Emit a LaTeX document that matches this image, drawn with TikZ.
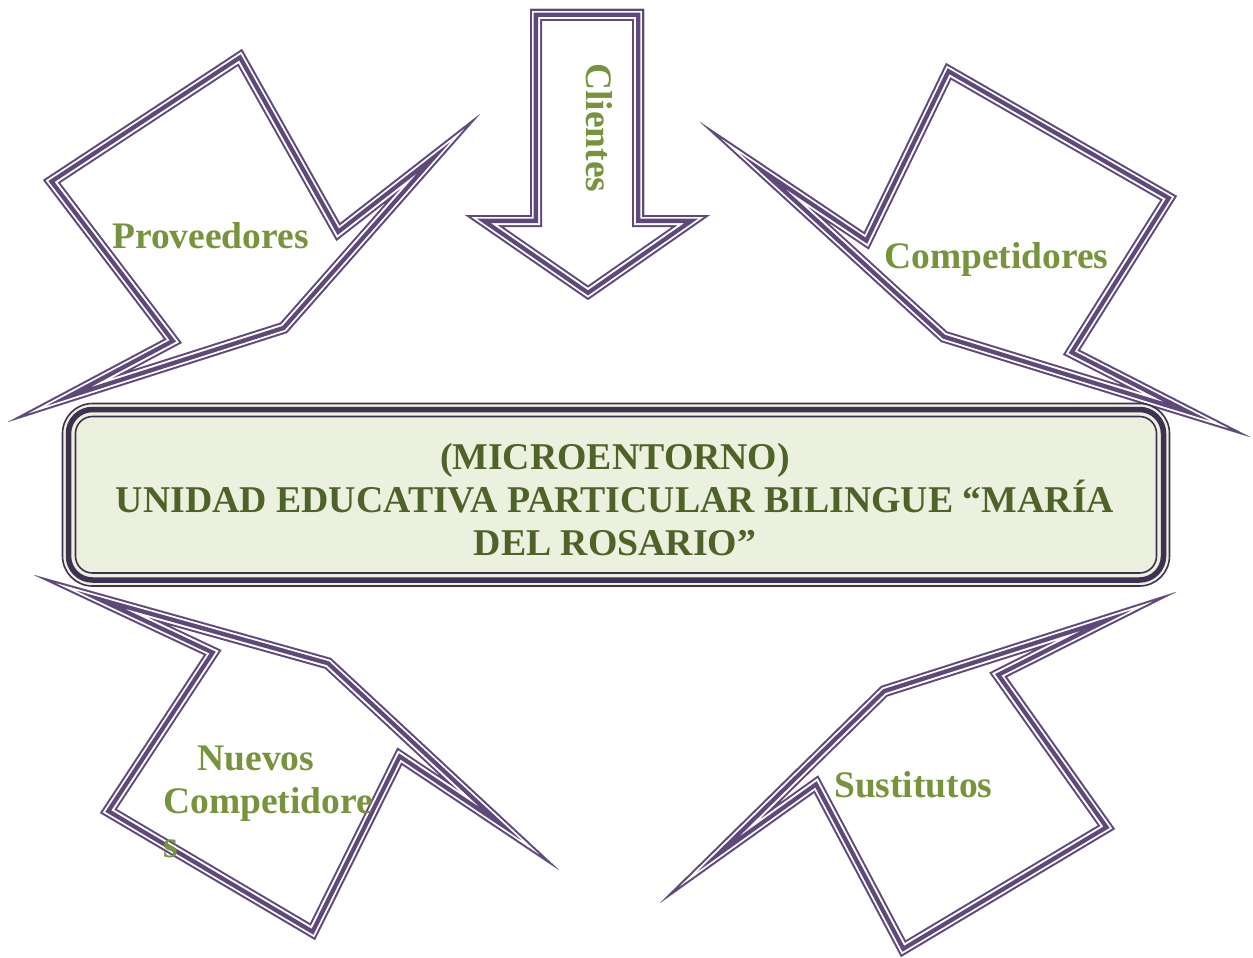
\documentclass[tikz,border=0pt]{standalone}
\usepackage{fontspec}
\setmainfont{Liberation Serif}
\definecolor{pur}{HTML}{5F497A}
\definecolor{frm}{HTML}{3F3151}
\definecolor{lab}{HTML}{77933C}
\definecolor{btx}{HTML}{4F6228}
\definecolor{bfill}{HTML}{EBF1DE}
% triple (thin-thick-thin) outline drawn inside a polygon
\newcommand\tshape[1]{%
  \begin{scope}[line join=miter,miter limit=40]
    \clip #1 -- cycle;
    \draw[pur,line width=24pt] #1 -- cycle;
    \draw[white,line width=20pt] #1 -- cycle;
    \draw[pur,line width=16pt] #1 -- cycle;
    \draw[white,line width=7.2pt] #1 -- cycle;
    \draw[pur,line width=3.6pt] #1 -- cycle;
  \end{scope}}
\begin{document}
\begin{tikzpicture}[x=1pt,y=-1pt,
  lbl/.style={text=lab,font=\fontsize{37.5}{44}\selectfont\bfseries,inner sep=0pt}]
\useasboundingbox (0,0) rectangle (1253,958);
% Proveedores
\tshape{(242,49) -- (43,180) -- (164,339) -- (8,422) -- (287,333) -- (480,114) -- (340,223)}
% Clientes
\tshape{(530,9) -- (644,9) -- (644,215) -- (710,215) -- (588,300) -- (465,215) -- (530,215)}
% Competidores
\tshape{(946,63) -- (1177,196) -- (1080,350) -- (1250,437) -- (941,342) -- (700,122) -- (864,232)}
% Nuevos competidores
\tshape{(34,575) -- (204,655) -- (100,813) -- (315,940) -- (402,765) -- (559,870) -- (331,658)}
% Sustitutos
\tshape{(1176,592) -- (1007,677) -- (1115,829) -- (901,957) -- (814,793) -- (660,903) -- (881,686)}
% central box
\draw[frm,line width=1.6pt,fill=bfill,rounded corners=30pt] (62.5,403.5) rectangle (1169.5,586);
\draw[frm,line width=5.5pt,rounded corners=24pt] (68.5,409.5) rectangle (1163.5,580);
\draw[frm,line width=1.6pt,rounded corners=17pt] (75.5,416.5) rectangle (1156.5,573);
\node[align=center,text=btx,font=\fontsize{37.8}{43}\selectfont\bfseries,inner sep=0pt] (box) at (615,500)
  {(MICROENTORNO)\\UNIDAD EDUCATIVA PARTICULAR BILINGUE “MARÍA\\DEL ROSARIO”};
% labels
\node[lbl,anchor=base west] (prov) at (112,248) {Proveedores};
\node[lbl,anchor=base west,rotate=-90] (cli) at (586,63) {Clientes};
\node[lbl,anchor=base west] (comp) at (884,268) {Competidores};
\node[lbl,anchor=base] (nue1) at (256,770) {Nuevos};
\node[lbl,anchor=base west] (nue2) at (163,813) {Competidore};
\node[lbl,anchor=base west] (nue3) at (163,857) {s};
\node[lbl,anchor=base west] (sus) at (834,797) {Sustitutos};
\end{tikzpicture}
\end{document}
